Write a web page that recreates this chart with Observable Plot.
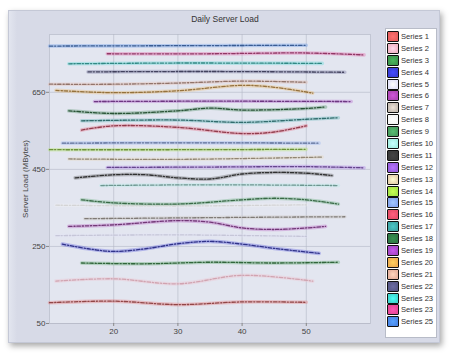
<!DOCTYPE html>
<html>
<head>
<meta charset="utf-8">
<script src="https://cdn.jsdelivr.net/npm/d3@7"></script>
<script src="https://cdn.jsdelivr.net/npm/@observablehq/plot@0.6"></script>
<style>
  html, body { margin: 0; padding: 0; background: #ffffff; }
  body { width: 450px; height: 354px; position: relative; overflow: hidden; font-family: "Liberation Sans", Arial, sans-serif; }
  #panel { position: absolute; left: 8px; top: 10px; width: 432px; height: 333px;
    background: linear-gradient(90deg, #e2e5ef 0px, #d7dae7 8px, #d7dae7 100%);
    box-shadow: 2px 3px 6px rgba(0,0,0,0.35); border: 1px solid #c4c8d6; box-sizing: border-box; }
  #title { position: absolute; left: 0; width: 450px; top: 14px; text-align: center; font-size: 8.5px; color: #333; }
  #chart { position: absolute; left: 0; top: 0; }
  #legend { position: absolute; left: 385px; top: 28px; width: 52px; height: 310px; background: #fff;
    border: 1px solid #b8bcc8; box-sizing: border-box; padding-top: 2px; }
  .item { position: relative; height: 11.9px; font-size: 7.6px; color: #333; white-space: nowrap; }
  .sw { position: absolute; left: 1px; top: 0px; width: 10px; height: 9px; border: 1.5px solid #111; border-radius: 1px; }
  .lab { position: absolute; left: 15px; top: 1px; }
</style>
</head>
<body>
<div id="panel"></div>
<div id="title">Daily Server Load</div>
<div id="chart"></div>
<div id="legend"></div>
<script>
const seriesNames = ["Series 1","Series 2","Series 3","Series 4","Series 5","Series 6","Series 7","Series 8","Series 9","Series 10","Series 11","Series 12","Series 13","Series 14","Series 15","Series 16","Series 17","Series 18","Series 19","Series 20","Series 21","Series 22","Series 23","Series 23","Series 25"];
const seriesColors = ["#e8605f","#f2b8c8","#3f9a4f","#3a3fd8","#e4e4fa","#b048b8","#c8bfb5","#f6f6f6","#4aa060","#a8f0e4","#3a3a3a","#9a60e0","#e8d4b0","#a8e848","#88a8f0","#e8506a","#40a8a8","#2f7a45","#a848c8","#f0b050","#e8b4a0","#5a5a8a","#40d8d0","#e84898","#4a88e8"];
const seriesPoints = [
  [[10,104],[20,108],[30,99],[40,106],[50,105]],
  [[11,160],[20,166],[30,153],[40,175],[51,160]],
  [[15,207],[25,205],[35,209],[45,207],[55,209]],
  [[12,256],[16,244],[20,237],[25,244],[30,257],[35,263],[40,256],[45,245],[52,232]],
  [[11,278],[30,280],[50,276]],
  [[13,302],[20,306],[30,317],[35,313],[40,298],[45,294],[50,298],[53,302]],
  [[15.5,322],[30,324],[45,326],[56,327]],
  [[11,357],[30,355],[50,358]],
  [[15,371],[20,363],[30,360],[40,371],[45,375],[50,371],[55,360]],
  [[18,408],[35,410],[55,408]],
  [[14,428],[20,436],[25,436],[30,428],[35,425],[40,438],[45,442],[50,440],[54,434]],
  [[19,455],[35,456],[50,457],[59,454]],
  [[13,477],[30,476],[50,481],[52.5,482]],
  [[10,501],[30,501],[50,502]],
  [[12,518],[30,519],[52,518]],
  [[15,552],[20,563],[30,559],[40,543],[45,547],[50,563]],
  [[15,576],[30,578],[40,572],[50,580],[55,584]],
  [[13,602],[20,595],[30,602],[35,609],[40,604],[50,608],[53,612]],
  [[17,626],[35,627],[57,626]],
  [[11,655],[20,649],[30,654],[40,668],[45,663],[51,648]],
  [[10,671],[20,671],[30,674],[40,679],[50,676]],
  [[16,703],[35,704],[56,702]],
  [[13,724],[30,726],[52.5,725]],
  [[19,750],[35,750],[50,752],[59,747]],
  [[10,770],[30,771],[50,772]]
];
const xTicks = [20, 30, 40, 50];
const yTicks = [50, 250, 450, 650];
const xDomain = [10, 60];
const yDomain = [50, 800];

function coreColor(c) {
  const col = d3.color(c);
  const hsl = d3.hsl(col);
  return hsl.l > 0.8 ? col.darker(0.45).formatHex() : col.darker(1.5).formatHex();
}

const rows = seriesPoints.flatMap((pts, i) => pts.map(([x, y]) => ({
  series: i, x, y, halo: seriesColors[i], core: coreColor(seriesColors[i])
})));

const chart = Plot.plot({
  width: 450, height: 354,
  marginLeft: 49, marginRight: 80, marginTop: 34, marginBottom: 31,
  style: { background: "transparent", fontFamily: "Liberation Sans, Arial, sans-serif", fontSize: "8px", color: "#444" },
  x: { domain: xDomain },
  y: { domain: yDomain },
  color: { type: "identity" },
  marks: [
    Plot.frame({ fill: "#e3e6f0", stroke: "#c2c6d3" }),
    Plot.gridX(xTicks, { stroke: "#b4b8c6", strokeOpacity: 0.6 }),
    Plot.gridY(yTicks, { stroke: "#b4b8c6", strokeOpacity: 0.6 }),
    Plot.axisX({ ticks: xTicks, tickSize: 3, tickPadding: 2, label: null, stroke: "#888" }),
    Plot.axisY({ ticks: yTicks, tickSize: 3, tickPadding: 1, label: "Server Load (MBytes)", labelAnchor: "center", labelArrow: "none", labelOffset: 27, stroke: "#888" }),
    Plot.line(rows, { x: "x", y: "y", z: "series", stroke: "halo", strokeWidth: 3.6, strokeOpacity: 0.3, curve: "catmull-rom" }),
    Plot.line(rows, { x: "x", y: "y", z: "series", stroke: "core", strokeWidth: 1.3, strokeOpacity: 0.9, strokeDasharray: "3.5 1.8 1.2 1.8", curve: "catmull-rom" })
  ]
});
document.getElementById("chart").appendChild(chart);

const legend = document.getElementById("legend");
seriesNames.forEach((name, i) => {
  const item = document.createElement("div");
  item.className = "item";
  const sw = document.createElement("div");
  sw.className = "sw";
  const c = seriesColors[i];
  sw.style.background = `radial-gradient(circle at 50% 50%, ${d3.color(c).brighter(0.5).formatHex()} 0%, ${c} 70%)`;
  const lab = document.createElement("span");
  lab.className = "lab";
  lab.textContent = name;
  item.appendChild(sw);
  item.appendChild(lab);
  legend.appendChild(item);
});
</script>
</body>
</html>
